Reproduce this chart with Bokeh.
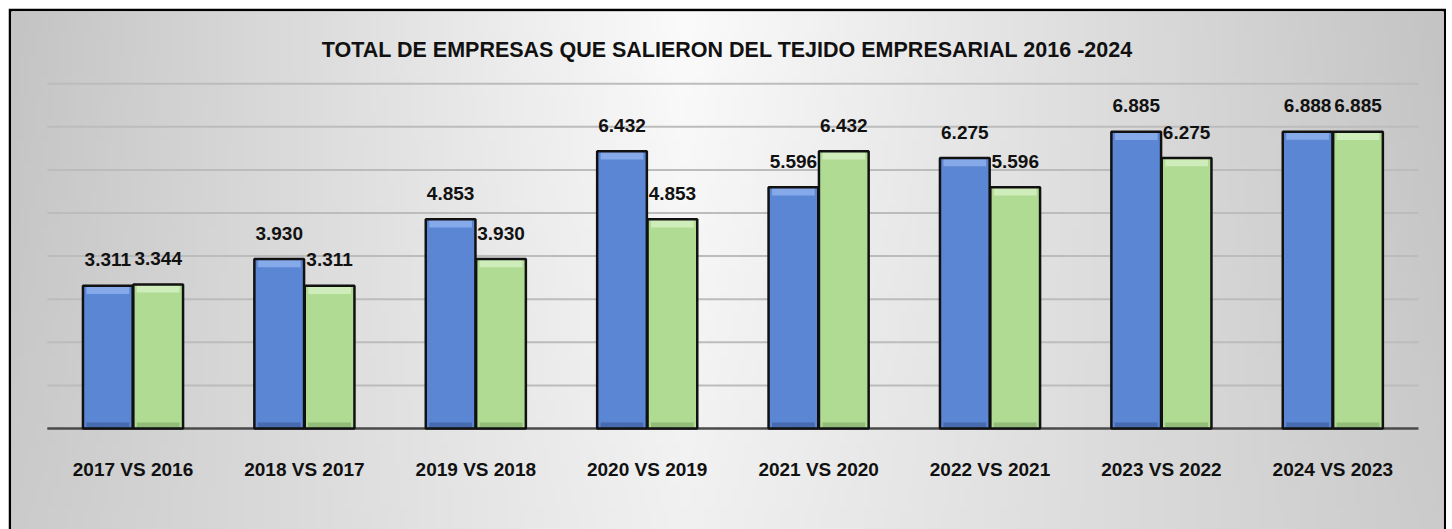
import numpy as np
from bokeh.plotting import figure
from bokeh.models import ColumnDataSource, Range1d, Label
from bokeh.transform import dodge
from bokeh.core.properties import value
from bokeh.embed import file_html
from bokeh.resources import INLINE

# ---------------- data ----------------
chart_title = "TOTAL DE EMPRESAS QUE SALIERON DEL TEJIDO EMPRESARIAL 2016 -2024"
categories = ["2017 VS 2016", "2018 VS 2017", "2019 VS 2018", "2020 VS 2019",
              "2021 VS 2020", "2022 VS 2021", "2023 VS 2022", "2024 VS 2023"]
current_year = [3311, 3930, 4853, 6432, 5596, 6275, 6885, 6888]
previous_year = [3344, 3311, 3930, 4853, 6432, 5596, 6275, 6885]
grid_ticks = [1000, 2000, 3000, 4000, 5000, 6000, 7000, 8000]

# ---------------- layout ----------------
W, H = 1438, 521
FONT = "Liberation Sans"
n = len(categories)
x_start, x_end = -0.7089, 7.6458
y_start, y_end = -2343, 9675
OFF = 0.147
BW = 0.29


def fmt(v):
    return f"{v:,}".replace(",", ".")


src = ColumnDataSource(dict(
    x=list(range(n)),
    cat=categories,
    cur=current_year,
    prev=previous_year,
    cur_lbl=[fmt(v) for v in current_year],
    prev_lbl=[fmt(v) for v in previous_year],
    cur_hi=[v - 190 for v in current_year],
    prev_hi=[v - 190 for v in previous_year],
))

p = figure(width=W, height=H, x_range=Range1d(x_start, x_end),
           y_range=Range1d(y_start, y_end), x_axis_type=None, y_axis_type=None,
           output_backend="svg", toolbar_location=None,
           min_border_left=3, min_border_right=3, min_border_top=3, min_border_bottom=0,
           margin=(8, 6, 0, 8))
p.outline_line_color = None
p.border_fill_color = "#000000"

# background gradient
nx, ny = 240, 24
t = np.linspace(0, 1, nx)
vy = np.linspace(0, 1, ny)
peak = 0.47
d = np.where(t < peak, (peak - t) / peak, (t - peak) / (1 - peak))
top_prof = 251 - 55 * d
bot_prof = 241 - 38 * d
g = bot_prof[None, :] * (1 - vy[:, None]) + top_prof[None, :] * vy[:, None]
img = np.empty((ny, nx), dtype=np.uint32)
view = img.view(dtype=np.uint8).reshape((ny, nx, 4))
view[..., 0] = g.astype(np.uint8)
view[..., 1] = g.astype(np.uint8)
view[..., 2] = g.astype(np.uint8)
view[..., 3] = 255
p.image_rgba(image=[img], x=x_start, y=y_start, dw=x_end - x_start, dh=y_end - y_start)

# grid lines & baseline
p.segment(x0=-0.5, x1=n - 0.5, y0=grid_ticks, y1=grid_ticks,
          line_color="#bcbcbc", line_width=2)
p.segment(x0=-0.5, x1=n - 0.5, y0=0, y1=0, line_color="#4a4a4a", line_width=2.5)

# bars
for col, hi, off, fill, light, dark in [
    ("cur", "cur_hi", -OFF, "#5b86d3", "#86a9ea", "#40609f"),
    ("prev", "prev_hi", OFF, "#b0db93", "#cfecbb", "#88ae6e"),
]:
    p.vbar(x=dodge("x", off, range=p.x_range), top=col, bottom=0, width=BW,
           source=src, fill_color=fill, line_color=None)
    p.vbar(x=dodge("x", off, range=p.x_range), top=col, bottom=hi, width=BW * 0.86,
           source=src, fill_color=light, line_color=None)
    p.vbar(x=dodge("x", off, range=p.x_range), top=140, bottom=0, width=BW * 0.86,
           source=src, fill_color=dark, fill_alpha=0.7, line_color=None)
    p.vbar(x=dodge("x", off, range=p.x_range), top=col, bottom=0, width=BW,
           source=src, fill_alpha=0, line_color="#111111", line_width=2.5)

# value labels
for ycol, tcol, off in [("cur", "cur_lbl", -OFF), ("prev", "prev_lbl", OFF)]:
    p.text(x=dodge("x", off, range=p.x_range), y=ycol, text=tcol, source=src,
           text_align="center", text_baseline="alphabetic", y_offset=-26,
           text_font=value(FONT), text_font_style="bold", text_font_size="19px",
           text_color="#111111")

# category labels
p.text(x="x", y=0, text="cat", source=src, text_align="center",
       text_baseline="alphabetic", y_offset=41, text_font=value(FONT),
       text_font_style="bold", text_font_size="19px", text_color="#111111")

# title
p.add_layout(Label(x=716, y=480, x_units="screen", y_units="screen",
                   text=chart_title, text_align="center", text_baseline="alphabetic",
                   text_font=FONT, text_font_style="bold", text_font_size="21.5px",
                   text_color="#111111"))

open("out.html", "w").write(file_html(p, INLINE))
